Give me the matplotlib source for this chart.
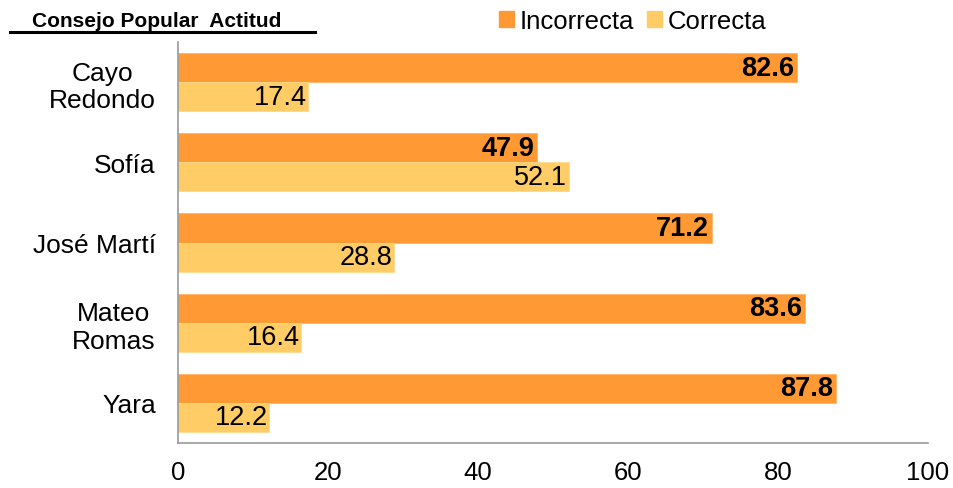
import matplotlib.pyplot as plt
import numpy as np
from matplotlib.lines import Line2D
from matplotlib.patches import Patch

plt.rcParams['font.family'] = ['Liberation Sans', 'DejaVu Sans']

# datos
categorias = ['Cayo\nRedondo', 'Sofía', 'José Martí', 'Mateo\nRomas', 'Yara']
incorrecta = [82.6, 47.9, 71.2, 83.6, 87.8]
correcta = [17.4, 52.1, 28.8, 16.4, 12.2]

c_inc = '#FF9933'
c_cor = '#FFCC66'

fig = plt.figure(figsize=(9.54, 4.89), dpi=100)
ax = fig.add_axes([0.1866, 0.092, 0.786, 0.82])

y = np.arange(len(categorias))
h = 0.3625
b1 = ax.barh(y - h / 2, incorrecta, height=h, color=c_inc, edgecolor='#FFB366', linewidth=0.6)
b2 = ax.barh(y + h / 2, correcta, height=h, color=c_cor, edgecolor='#FFD98C', linewidth=0.6)

# etiquetas de valores
for rect, v in zip(b1, incorrecta):
    ax.annotate(f'{v:.1f}', (v, rect.get_y() + rect.get_height() / 2),
                xytext=(-2, 0), textcoords='offset points', ha='right', va='center',
                fontsize=19.5, fontweight='bold', color='black')
for rect, v in zip(b2, correcta):
    ax.annotate(f'{v:.1f}', (v, rect.get_y() + rect.get_height() / 2),
                xytext=(-1, 0), textcoords='offset points', ha='right', va='center',
                fontsize=19.5, color='black')

ax.set_xlim(0, 100)
ax.set_ylim(len(categorias) - 0.5, -0.5)
ax.set_xticks([0, 20, 40, 60, 80, 100])
ax.set_yticks(y)
ax.set_yticklabels(categorias, multialignment='center')
ax.tick_params(axis='x', length=0, labelsize=18.5, pad=12)
ax.tick_params(axis='y', length=0, labelsize=19, pad=16)

for s in ['top', 'right']:
    ax.spines[s].set_visible(False)
for s in ['left', 'bottom']:
    ax.spines[s].set_color('#999999')
    ax.spines[s].set_linewidth(1.2)

# titulo subrayado
fig.text(0.034, 0.957, 'Consejo Popular  Actitud', fontsize=15, fontweight='bold', va='center')
fig.add_artist(Line2D([0.010, 0.330], [0.932, 0.932], color='black', linewidth=2.2))

# leyenda
handles = [Patch(color=c_inc), Patch(color=c_cor)]
fig.legend(handles, ['Incorrecta', 'Correcta'], loc='center', bbox_to_anchor=(0.663, 0.955),
           ncol=2, frameon=False, fontsize=18.5, handlelength=0.6, handleheight=0.6,
           handletextpad=0.2, columnspacing=0.5, borderaxespad=0)

plt.savefig('out.png', dpi=100)
